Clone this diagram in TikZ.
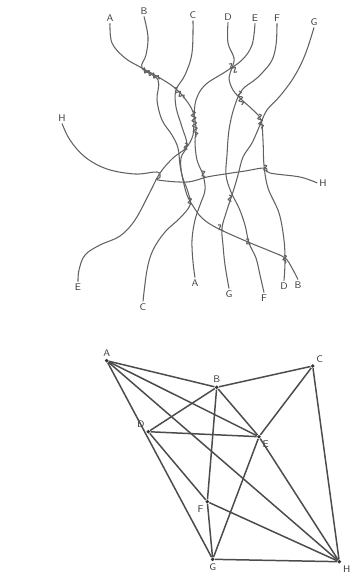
\documentclass[tikz,border=0pt]{standalone}
\usepackage{tikz}
\usetikzlibrary{decorations.pathmorphing}

\begin{document}
\begin{tikzpicture}[x=0.02cm,y=-0.02cm, every node/.style={font=\fontsize{5.5}{6}\sffamily,inner sep=1pt,text=black!75},
  str/.style={black!62,line width=0.6pt},
  wig/.style={str,decorate,decoration={snake,segment length=3pt,amplitude=1.2pt}},
  edge/.style={black!70,line width=0.85pt},
  vtx/.style={circle,fill=black!80,inner sep=0pt,minimum size=2.2pt}]
\useasboundingbox (0,0) rectangle (364,579);
% the tangle
\node (tA) at (110,18) {A}; \node (tB) at (144,11) {B}; \node (tC) at (193,15) {C};
\node (tD) at (228,17) {D}; \node (tE) at (255,18) {E}; \node (tF) at (277,18) {F};
\node (tG) at (314,22) {G}; \node (tH) at (62,118) {H};
\node (bE) at (78,287) {E}; \node (bC) at (143,307) {C}; \node (bA) at (195,283) {A};
\node (bG) at (229,294) {G}; \node (bF) at (264,298) {F}; \node (bD) at (284,286) {D};
\node (bB) at (298,285) {B}; \node (bH) at (323,183) {H};
\draw[str] plot[smooth,tension=0.6] coordinates {(tA.south) (112,43) (125,58) (142,68) (160,78) (175,88) (186,100) (193,112) (196,128) (195,142) (197,160) (203,175) (205,190) (200,205) (195,220) (192,240) (193,262) (bA.north)};
\draw[str] plot[smooth,tension=0.6] coordinates {(tB.south) (148,37) (146,55) (142,68) (158,80) (157,100) (162,120) (172,135) (178,148) (180,165) (183,180) (187,195) (193,206) (202,218) (217,228) (248,242) (270,251) (285,258) (292,268) (bB.north)};
\draw[str] plot[smooth,tension=0.6] coordinates {(tC.south) (192,53) (185,75) (176,90) (176,107) (182,127) (187,145) (181,158) (182,175) (188,192) (190,205) (180,218) (165,232) (153,250) (147,270) (bC.north)};
\draw[str] plot[smooth,tension=0.6] coordinates {(tD.south) (228,43) (234,58) (232,68) (229,78) (233,90) (242,100) (253,110) (261,120) (263,140) (264,165) (268,188) (279,213) (284,240) (285,262) (bD.north)};
\draw[str] plot[smooth,tension=0.6] coordinates {(tE.south) (252,45) (242,60) (225,72) (205,85) (196,100) (194,118) (193,135) (186,148) (173,158) (160,173) (150,192) (135,220) (120,236) (100,245) (85,255) (79,270) (bE.north)};
\draw[str] plot[smooth,tension=0.6] coordinates {(tF.south) (276,45) (271,62) (257,78) (242,90) (234,108) (229,130) (227,155) (226,175) (231,192) (239,208) (245,225) (249,243) (256,258) (260,275) (bF.north)};
\draw[str] plot[smooth,tension=0.6] coordinates {(tG.south) (305,55) (294,77) (280,96) (267,110) (260,125) (252,143) (243,157) (238,175) (233,192) (227,210) (222,228) (223,245) (225,265) (bG.north)};
\draw[str] plot[smooth,tension=0.6] coordinates {(tH.south) (70,140) (85,157) (107,169) (135,174) (157,172) (160,177) (158,180) (187,182) (207,177) (225,174) (245,171) (265,168) (270,173) (300,177) (bH.west)};
\draw[wig] (142,69) -- (160,79); \draw[wig] (174,88) -- (184,98);
\draw[wig] (193,111) -- (196,137); \draw[wig] (229,64) -- (237,72);
\draw[wig] (239,91) -- (242,105); \draw[wig] (259,114) -- (262,129);
\draw[wig] (185,143) -- (187,150); \draw[wig] (202,171) -- (205,177);
\draw[wig] (189,198) -- (191,205); \draw[wig] (229,195) -- (231,202);
\draw[wig] (218,225) -- (223,231); \draw[wig] (246,239) -- (250,245);
\draw[wig] (284,255) -- (286,263); \draw[wig] (264,165) -- (267,172);
% the graph
\node[vtx,label={[name=lA]above:A}] (gA) at (106.7,360.7) {};
\node[vtx,label={[name=lB]above:B}] (gB) at (216.7,387.3) {};
\node[vtx,label={[name=lC]above right:C}] (gC) at (312.7,366) {};
\node[vtx,label={[name=lD]above left:D}] (gD) at (148.3,431.7) {};
\node[vtx,label={[name=lE]below right:E}] (gE) at (259,436.7) {};
\node[vtx,label={[name=lF]below left:F}] (gF) at (207.3,501.7) {};
\node[vtx,label={[name=lG]below:G}] (gG) at (212.7,559.3) {};
\node[vtx,label={[name=lH]below right:H}] (gH) at (339.3,561.7) {};
\foreach \a/\b in {A/B,A/E,A/H,A/G,B/C,B/D,B/E,B/F,F/G,C/E,C/H,D/E,D/F,E/G,E/H,F/H,G/H}
  \draw[edge] (g\a) -- (g\b);
\end{tikzpicture}
\end{document}
